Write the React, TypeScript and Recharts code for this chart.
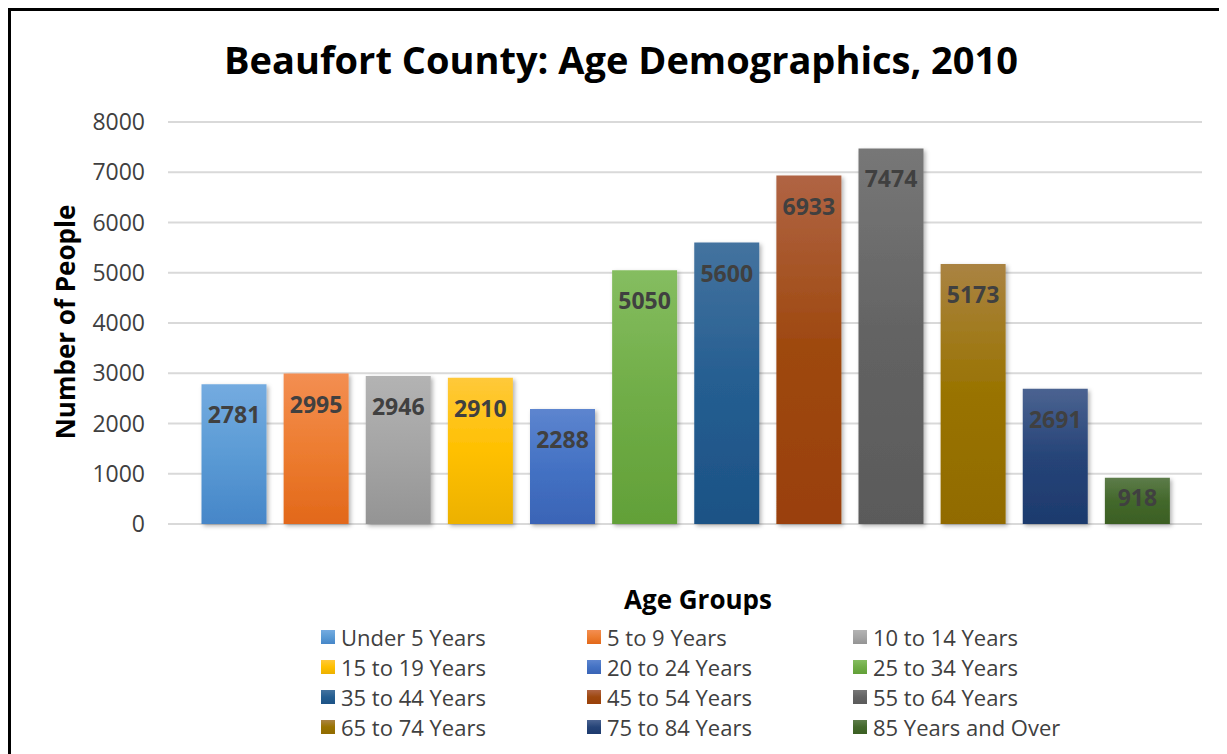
import React from "react";
import { BarChart, Bar, XAxis, YAxis, CartesianGrid, Cell, LabelList, Legend } from "recharts";

const categories = [
  "Under 5 Years", "5 to 9 Years", "10 to 14 Years", "15 to 19 Years",
  "20 to 24 Years", "25 to 34 Years", "35 to 44 Years", "45 to 54 Years",
  "55 to 64 Years", "65 to 74 Years", "75 to 84 Years", "85 Years and Over",
];
const population = [2781, 2995, 2946, 2910, 2288, 5050, 5600, 6933, 7474, 5173, 2691, 918];
const yTicks = [0, 1000, 2000, 3000, 4000, 5000, 6000, 7000, 8000];
const title = "Beaufort County: Age Demographics, 2010";
const yTitle = "Number of People";
const xTitle = "Age Groups";

// style: [top, middle, bottom] gradient colours per bar
const barColors = [
  ["#74abe0", "#5b9bd5", "#4686c8"],
  ["#f38e52", "#ed7d31", "#e2681a"],
  ["#b3b3b3", "#a5a5a5", "#949494"],
  ["#ffc93a", "#ffc000", "#ecb100"],
  ["#5d85cf", "#4472c4", "#3a64b6"],
  ["#85bd60", "#70ad47", "#62a038"],
  ["#44739f", "#255e91", "#1c5285"],
  ["#b06444", "#9e480e", "#9a400a"],
  ["#777777", "#636363", "#5a5a5a"],
  ["#aa8342", "#997300", "#916b00"],
  ["#4b6391", "#264478", "#1d3a6d"],
  ["#5d7c4a", "#43682b", "#3b5f23"],
];

const FONT = "'Open Sans', sans-serif";

const data = categories.map((name, i) => ({ name, value: population[i] }));

const renderLabel = (props: any) => {
  const { x, y, width, height, value } = props;
  const cy = y + Math.min(30, height / 2 - 4);
  return (
    <text
      x={x + width / 2}
      y={cy}
      textAnchor="middle"
      dominantBaseline="central"
      fontFamily={FONT}
      fontWeight={700}
      fontSize={23}
      fill="#404040"
    >
      {value}
    </text>
  );
};

const renderLegend = () => (
  <div
    style={{
      display: "grid",
      gridTemplateColumns: "266px 266px 266px",
      marginLeft: 310,
      fontFamily: FONT,
      fontSize: 22,
      color: "#404040",
    }}
  >
    {categories.map((c, i) => (
      <div key={c} style={{ height: 30, display: "flex", alignItems: "center", whiteSpace: "nowrap" }}>
        <span
          style={{
            display: "inline-block",
            width: 14,
            height: 14,
            marginRight: 6,
            background: `linear-gradient(${barColors[i][0]}, ${barColors[i][1]} 50%, ${barColors[i][2]})`,
          }}
        />
        <span>{c}</span>
      </div>
    ))}
  </div>
);

export default function App() {
  return (
    <div
      style={{
        width: 1219,
        height: 746,
        boxSizing: "border-box",
        borderTop: "3px solid #000",
        borderLeft: "3px solid #000",
        background: "#fff",
        overflow: "hidden",
      }}
    >
      <BarChart
        width={1216}
        height={743}
        data={data}
        margin={{ top: 111, right: 25, bottom: 110, left: 0 }}
      >
        <defs>
          {barColors.map((c, i) => (
            <linearGradient key={i} id={`grad${i}`} x1="0" y1="0" x2="0" y2="1">
              <stop offset="0%" stopColor={c[0]} />
              <stop offset="50%" stopColor={c[1]} />
              <stop offset="100%" stopColor={c[2]} />
            </linearGradient>
          ))}
          <filter id="shadow" x="-20%" y="-20%" width="140%" height="140%">
            <feDropShadow dx="2" dy="2" stdDeviation="2" floodColor="#000" floodOpacity="0.3" />
          </filter>
        </defs>
        <CartesianGrid vertical={false} stroke="#d9d9d9" strokeWidth={2} />
        <XAxis dataKey="name" hide padding={{ left: 24.5, right: 24 }} />
        <YAxis
          width={157}
          domain={[0, 8000]}
          ticks={yTicks}
          interval={0}
          axisLine={false}
          tickLine={false}
          tickSize={0}
          tickMargin={23}
          tick={{ fontFamily: FONT, fontSize: 23, fill: "#404040" }}
        />
        <Bar dataKey="value" barSize={65} isAnimationActive={false}>
          {data.map((d, i) => (
            <Cell key={d.name} fill={`url(#grad${i})`} filter="url(#shadow)" />
          ))}
          <LabelList dataKey="value" content={renderLabel} />
        </Bar>
        <Legend
          content={renderLegend}
          wrapperStyle={{ position: "absolute", top: 611, left: 0, width: 1216 }}
        />
        <text
          x={610}
          y={63}
          textAnchor="middle"
          fontFamily={FONT}
          fontWeight={700}
          fontSize={38}
          fill="#000"
        >
          {title}
        </text>
        <text
          x={54}
          y={311}
          transform="rotate(-90 54 311)"
          textAnchor="middle"
          dominantBaseline="central"
          fontFamily={FONT}
          fontWeight={700}
          fontSize={26}
          fill="#000"
        >
          {yTitle}
        </text>
        <text
          x={687}
          y={598}
          textAnchor="middle"
          fontFamily={FONT}
          fontWeight={700}
          fontSize={26}
          fill="#000"
        >
          {xTitle}
        </text>
      </BarChart>
    </div>
  );
}
